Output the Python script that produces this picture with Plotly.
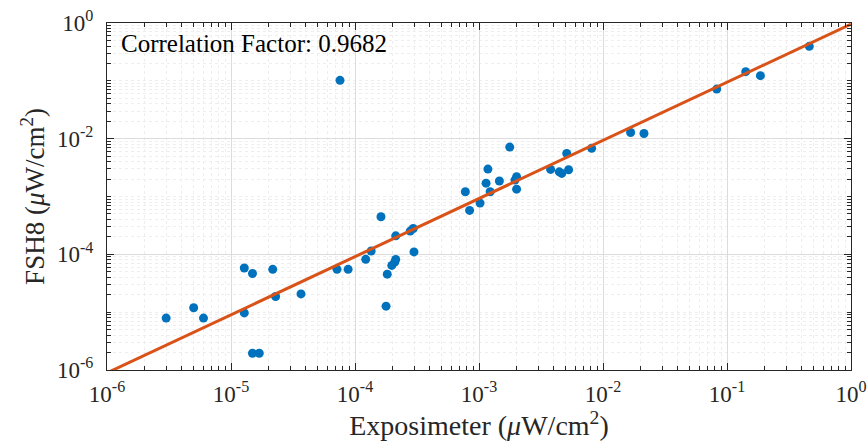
import numpy as np
import plotly.graph_objects as go

# Measured data (µW/cm²)
exposimeter = [3.0e-6, 5.0e-6, 6.0e-6, 1.28e-5, 1.49e-5, 2.17e-5, 1.28e-5, 1.49e-5, 1.69e-5,
               2.29e-5, 3.67e-5, 7.16e-5, 8.8e-5, 1.22e-4, 1.35e-4, 1.62e-4, 1.78e-4, 1.82e-4,
               1.98e-4, 2.09e-4, 2.13e-4, 2.13e-4, 2.79e-4, 2.95e-4, 2.99e-4, 7.57e-5,
               7.76e-4, 8.4e-4, 1.02e-3, 1.14e-3, 1.18e-3, 1.23e-3, 1.46e-3, 1.77e-3, 2.01e-3,
               1.95e-3, 2.01e-3, 3.78e-3, 4.44e-3, 4.65e-3, 5.28e-3, 5.1e-3, 8.1e-3, 1.67e-2,
               2.14e-2, 8.26e-2, 0.1416, 0.186, 0.461]
fsh8 = [7.9e-6, 1.19e-5, 7.9e-6, 5.8e-5, 4.67e-5, 5.5e-5, 9.7e-6, 1.95e-6, 1.95e-6,
        1.87e-5, 2.07e-5, 5.5e-5, 5.5e-5, 8.2e-5, 1.14e-4, 4.46e-4, 1.27e-5, 4.54e-5,
        6.43e-5, 7.33e-5, 8.17e-5, 2.09e-4, 2.52e-4, 2.8e-4, 1.1e-4, 0.102,
        1.21e-3, 5.75e-4, 7.7e-4, 1.7e-3, 2.98e-3, 1.21e-3, 1.85e-3, 7.16e-3, 2.2e-3,
        1.92e-3, 1.34e-3, 2.94e-3, 2.67e-3, 2.51e-3, 2.9e-3, 5.56e-3, 6.8e-3, 1.28e-2,
        1.23e-2, 7.2e-2, 0.144, 0.123, 0.395]

# Fit line in log-log space: log10(y) = fit_intercept + fit_slope * log10(x)
fit_slope = 1.005
fit_intercept = -0.02
fit_x = [1e-6, 1.0]
correlation_label = "Correlation Factor: 0.9682"

x_major = [1e-6, 1e-5, 1e-4, 1e-3, 1e-2, 1e-1, 1]
x_major_text = ["10<sup>-6</sup>", "10<sup>-5</sup>", "10<sup>-4</sup>", "10<sup>-3</sup>",
                "10<sup>-2</sup>", "10<sup>-1</sup>", "10<sup>0</sup>"]
y_major = [1e-6, 1e-4, 1e-2, 1]
y_major_text = ["10<sup>-6</sup>", "10<sup>-4</sup>", "10<sup>-2</sup>", "10<sup>0</sup>"]

x_minor = [m * 10.0 ** e for e in range(-6, 0) for m in range(2, 10)]
y_minor = [m * 10.0 ** e for e in range(-6, 0) for m in range(1, 10)
           if not (m == 1 and e % 2 == 0)]

fit_y = [10 ** (fit_intercept + fit_slope * np.log10(v)) for v in fit_x]

FONT = "Liberation Serif"
fig = go.Figure()
fig.add_trace(go.Scatter(x=exposimeter, y=fsh8, mode="markers",
                         marker=dict(color="#0072BD", size=9, symbol="circle"),
                         showlegend=False, cliponaxis=True))
fig.add_trace(go.Scatter(x=fit_x, y=fit_y, mode="lines",
                         line=dict(color="#D95319", width=3),
                         showlegend=False))

axis_common = dict(type="log", showline=True, linecolor="#262626", linewidth=1,
                   mirror="allticks", ticks="inside", ticklen=7, tickcolor="#262626",
                   showgrid=True, gridcolor="#DCDCDC", gridwidth=1, zeroline=False,
                   automargin=False,
                   tickfont=dict(family=FONT, size=23, color="#262626"))

fig.update_xaxes(range=[-6, 0], tickmode="array", tickvals=x_major, ticktext=x_major_text,
                 ticklabelstandoff=3,
                 title=dict(text="Exposimeter (<i>μ</i>W/cm<sup>2</sup>)",
                            font=dict(family=FONT, size=28, color="#262626"), standoff=6),
                 minor=dict(tickmode="array", tickvals=x_minor, ticks="inside", ticklen=4,
                            tickcolor="#262626", showgrid=True, gridcolor="#EEEEEE",
                            griddash="dot", gridwidth=1),
                 **axis_common)
fig.update_yaxes(range=[-6, 0], tickmode="array", tickvals=y_major, ticktext=y_major_text,
                 ticklabelstandoff=8,
                 title=dict(text="FSH8 (<i>μ</i>W/cm<sup>2</sup>)",
                            font=dict(family=FONT, size=27, color="#262626"), standoff=4),
                 minor=dict(tickmode="array", tickvals=y_minor, ticks="inside", ticklen=4,
                            tickcolor="#262626", showgrid=True, gridcolor="#EEEEEE",
                            griddash="dot", gridwidth=1),
                 **axis_common)

fig.add_annotation(text=correlation_label, xref="paper", yref="paper",
                   x=0.016, y=0.985, xanchor="left", yanchor="top", showarrow=False,
                   font=dict(family=FONT, size=25, color="#000000"))

fig.update_layout(width=868, height=448, plot_bgcolor="white", paper_bgcolor="white",
                  margin=dict(l=107, r=17, t=23, b=78))

fig.write_html("out.html")
